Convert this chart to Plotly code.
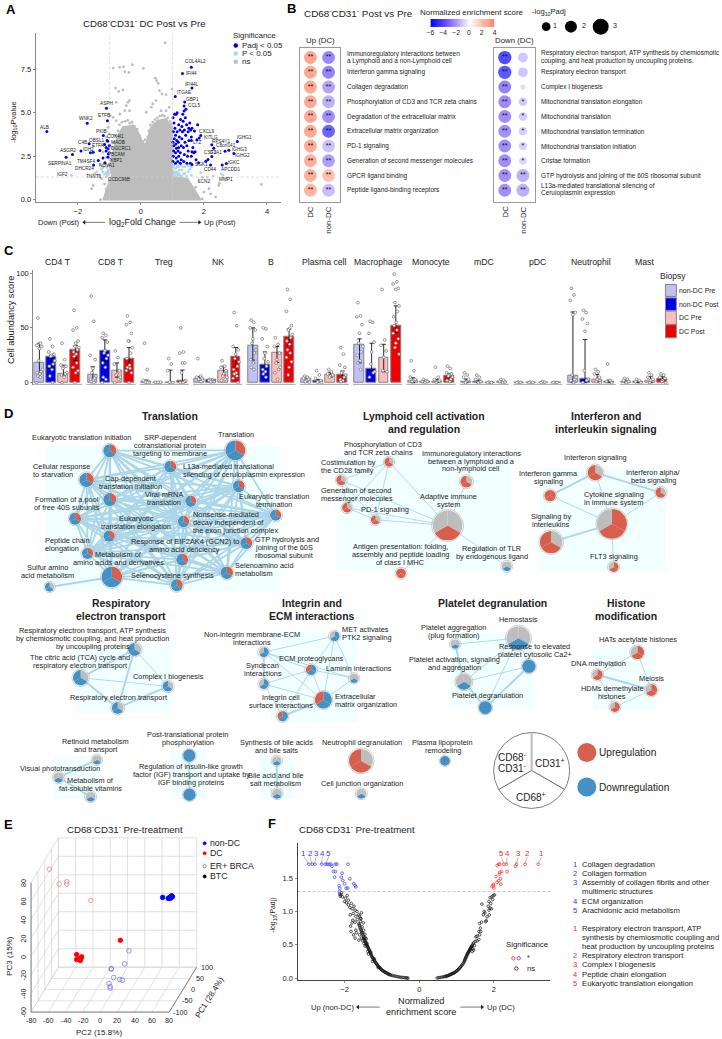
import plotly.graph_objects as go

W, H = 722, 1039
FONT = "Liberation Sans, Arial, sans-serif"
GREY_AX = "#8a8a8a"

# ---------- Panel A data (log2FC, -log10P) ----------
cloud_x = [-1.19,-1.04,-.91,-.985,-.88,-.744,-.566,-.25,-.09,.063,.168,.325,.535,.797,.985,1.0,1.04,1.48,1.74,1.9]
cloud_y = [-.04,.82,1.39,1.87,2.73,3.59,4.16,4.25,3.87,3.2,3.2,4.16,4.54,4.63,4.06,1.77,1.3,1.2,.44,-.05]
ns_x = [.77,-.88,-.67,-.55,-.27,.08,-.51,-.38,-.80,-.70,-.57,.46,.5,.55,.59,.8,.99,.67,-.78,-.41,-.36,-.46,-.51,-.36,-.67,-.88,-.97,-.78,.17,.38,.48,.9,.64,.33,.8,
        -1.56,-1.51,-1.28,-1.30,-1.25,-1.2,-1.15,-1.09,-1.2,-1.15,-1.04,-.99,-1.09,2.0,2.16,2.21,2.37,2.47,2.49,3.82,1.53,1.74,1.84,1.95,1.21,1.53,1.95,-1.46,-1.09,
        -1.1,-1.15,-1.0,-1.05,-1.02,-.98,-1.0,-.92,-.85,-.82,-.72,-.68,-.6,-.5,-.42,-.35,-.28,-.2,-.12,-.05,.0,.08,.14,.22,.25,.3,.38,.45,.52,.6,.68,.75,.85,.92,.96,1.1,1.25,1.4,1.55,1.65,1.8,.98,-.75]
ns_y = [9.0,7.56,7.6,7.63,7.75,7.54,7.35,7.31,6.41,6.22,6.3,6.98,6.83,6.68,6.26,6.03,6.35,6.07,5.59,5.59,5.69,5.4,5.11,5.11,4.92,4.73,4.83,4.54,5.02,5.5,5.69,5.31,5.11,5.31,5.11,
        .63,.82,0,1.39,1.2,1.87,2.06,2.44,2.72,3.2,4.16,3.78,3.59,.44,.63,.34,.15,.82,.95,.88,.72,.72,1.1,1.3,.34,.15,.05,1.5,1.5,
        .6,.9,1.1,1.6,2.0,2.3,2.6,3.0,3.3,3.7,3.95,4.3,4.45,4.5,4.55,4.4,4.45,4.2,4.05,3.7,3.45,3.35,3.45,3.6,3.95,4.3,4.45,4.6,4.7,4.8,4.85,4.8,4.7,4.5,4.35,1.1,1.0,.9,.5,.3,.2,4.2,3.6]
p05_x = [1.05,1.1,1.15,1.2,1.25,1.3,1.35,1.4,1.45,1.5,1.55,1.6,1.05,1.1,1.2,1.3,1.4,1.08,1.15,1.22,1.27,1.33,1.5,1.6,1.02,1.03,1.12,1.18,-1.05,-1.1,-1.03,-1.15,-1.08,-1.2,-1.1,-1.02,-1.25,-1.3,-1.4,-2.2,1.9,2.1,2.3,2.6,2.55,-1.35]
p05_y = [2.0,1.8,1.6,1.9,1.4,1.7,1.5,1.9,1.35,1.6,1.75,1.4,1.4,1.35,1.5,1.35,1.5,1.6,1.9,1.7,2.0,1.9,1.95,1.9,1.7,1.9,1.5,1.4,1.4,1.55,1.7,1.45,1.85,1.6,1.3,1.5,1.75,2.0,1.6,1.4,1.55,1.3,1.35,1.4,1.5,1.4]
padj_x = [1.6,1.32,1.62,1.09,1.39,1.37,-1.09,-1.06,-1.7,-2.98,-1.19,-1.64,-1.15,-1.1,-1.07,-1.0,-1.03,-1.03,-1.04,-1.51,-2.17,-2.37,-1.35,-1.14,-1.3,
          1.9,1.85,1.6,2.25,2.31,3.06,2.79,2.67,2.95,2.25,2.13,2.06,2.71,2.58,1.83,2.21,1.62,
          1.02,1.03,1.04,1.05,1.02,1.06,1.03,1.08,1.05,1.02,1.07,1.1,1.12,1.1,1.13,1.11,1.14,1.1,1.15,1.12,1.15,1.17,1.2,1.18,1.2,1.19,1.22,1.24,1.2,1.26,1.25,1.28,1.25,1.28,1.3,1.32,1.3,1.34,1.33,1.37,1.36,1.38,1.35,1.4,1.42,1.38,1.45,1.41,1.43,1.46,1.48,1.5,1.46,1.52,1.5,1.52,1.55,1.57,1.6,1.62,1.65,1.6,1.58,1.62,1.68,1.7,1.75,1.72,1.78,1.8,
          -1.9,-1.6,-1.2,-1.05,-1.1,-1.5,-1.0]
padj_y = [7.6,7.25,6.41,5.92,5.61,5.38,5.25,4.54,4.39,3.91,3.68,3.21,3.17,3.0,3.4,3.11,2.92,2.63,2.44,2.73,2.6,2.44,2.25,2.12,2.82,
          3.68,3.55,3.4,3.15,2.96,3.34,2.84,2.79,2.65,2.48,2.31,2.21,2.08,2.0,2.12,2.0,2.02,
          2.2,2.5,2.8,3.1,3.3,3.5,3.9,4.1,4.4,4.7,4.9,2.1,2.4,2.7,2.95,3.2,3.4,3.7,3.9,4.9,5.0,2.2,2.5,2.8,3.0,3.3,3.6,4.0,4.3,4.6,2.1,2.3,2.7,3.1,3.5,3.9,4.2,4.5,4.9,5.1,2.2,2.6,3.0,3.3,3.7,4.0,4.3,4.7,5.2,2.1,2.5,2.8,3.1,3.4,3.9,4.1,4.4,2.1,2.5,2.75,3.0,3.6,4.0,4.1,2.7,3.95,2.3,2.75,3.45,4.3,
          2.8,2.7,2.4,3.35,2.8,2.0,2.7]
gene_labels = [("COL4AL2",580,183),("IFI44",566,218),("IFI44L",570,250),("ITGAE",544,276),("GBP1",571,297),("CCL5",574,314),("ASPH",311,308),("ETFB",302,344),("WNK2",247,354),("ALB",122,382),("CXCL9",613,392),("KITLG",625,412),("LYZ",585,425),("RPS4Y1",657,424),("C8orf141",673,435),("IGHG1",729,410),("IGHG3",713,447),("IGHG2",723,465),("CST1",622,455),("GJA1",640,456),("SGK1",597,492),("CD44",624,507),("IGKC",697,487),("APCDD1",685,506),("LCN2",605,543),("MMP1",671,537),("PKIB",294,393),("COX4I1",336,409),("MAOB",345,426),("OBSL1",280,420),("ETFA",285,436),("DGCRC1",355,444),("C4B",236,427),("IDH2",257,448),("BCAM",346,463),("ASGR2",195,450),("XBP1",340,480),("SERPINA1",170,488),("TM4SF4",249,483),("NOVA1",312,496),("DHCR24",243,505),("IGF2",177,521),("TNNT1",273,527),("CCDC96B",347,537)]

# ---------- Panel B data ----------
up_terms = ["Immunoregulatory interactions between<br>a Lymphoid and a non-Lymphoid cell","Interferon gamma signaling","Collagen degradation","Phosphorylation of CD3 and TCR zeta chains","Degradation of the extracellular matrix","Extracellular matrix organization","PD-1 signaling","Generation of second messenger molecules","GPCR ligand binding","Peptide ligand-binding receptors"]
down_terms = ["Respiratory electron transport, ATP synthesis by chemiosmotic<br>coupling, and heat production by uncoupling proteins.","Respiratory electron transport","Complex I biogenesis","Mitochondrial translation elongation","Mitochondrial translation","Mitochondrial translation termination","Mitochondrial translation initiation","Cristae formation","GTP hydrolysis and joining of the 60S ribosomal subunit","L13a-mediated translational silencing of<br>Ceruloplasmin expression"]
up_dc_nes = [3.9,3.85,3.85,3.8,3.8,3.75,3.7,3.6,3.5,3.3]
up_non_nes = [-3.5,-3.7,-2.6,-2.2,-3.3,-5.0,-1.7,-2.7,2.8,-1.8]
down_dc_nes = [-5.9,-5.5,-3.7,-3.4,-3.3,-3.2,-3.3,-3.3,-3.2,-3.2]
down_non_nes = [-1.6,-1.6,-1.0,-1.5,-1.5,-1.4,-1.4,-1.2,-2.3,-2.3]
up_dc_p = [2.2]*10
up_non_p = [2.2,2.2,2.2,2.2,2.2,2.2,2.2,2.2,2.2,2.2]
down_dc_p = [2.3,2.3,2.2,2.2,2.2,2.2,2.2,2.2,2.2,2.2]
down_non_p = [1.4,1.4,.2,1.1,1.1,1.1,1.0,.9,2.2,2.2]
up_dc_star = ["**"]*10
up_non_star = ["**"]*10
down_dc_star = ["**"]*10
down_non_star = ["","","","*","*","*","*","*","**","**"]
nes_scale = [[0,"#0000ff"],[.3,"#8468ff"],[.6,"#ffffff"],[1,"#ff7f5c"]]
cbar_vals = [-6,-5,-4,-3,-2,-1,0,1,2,3,4]

# ---------- Panel C data ----------
cell_types = ["CD4 T","CD8 T","Treg","NK","B","Plasma cell","Macrophage","Monocyte","mDC","pDC","Neutrophil","Mast"]
biopsy = ["non-DC Pre","non-DC Post","DC Pre","DC Post"]
biopsy_col = ["#c0c1f6","#0000e8","#fbbdbd","#ee0000"]
bar_vals = [[18,7,.5,3.3,34,3.6,34.5,2,.5,.2,6,1.2],[24,29,.3,2.4,16,2,13,1.2,.5,.2,4,1],[8.5,10.6,.3,10.6,27,7,22.4,1.2,.3,.3,3,2],[29.7,22,2,23.6,41.5,7,52.4,6,.5,.2,1,3.6]]
bar_hi = [[36,14.5,2.4,5.5,50,5.5,40,4.5,3.3,.4,64.5,2.4],[25,39,.5,3,28,3,36,2,2.4,.4,39.4,1.5],[16,18,11.5,15,33,9.4,35,3,1,.5,7.6,5.5],[34,32,11.5,32,49,10.6,70,8.5,1.5,.4,2.4,5.5]]
bar_lo = [[8.5,1,0,2,20.6,1.5,18,0,0,0,0,0],[13,19,0,1,9,.6,10,.3,0,0,0,0],[7,5,0,7,18.5,5,10,.3,0,0,1,0],[20,13,0,15,34,2.4,45.8,3.3,0,0,0,2.4]]
pts_nd_pre = [[59,36,34,33,31,20,12,10,9,8,6,5,0],[79,56,25,21,13,9,6,4,3,2,1,0],[36,12,2,1,1,.5,0,0],[22,6,5,4,3,3,2,1],[57,55,50,48,40,36,30,27,21,18,14,12],[6,5,4,3,2,1,.5],[73,61,60,53,45,36,33,28,25,20,18,12],[20,11,5,3,2,1],[9,7,5,3,1,0],[.5,.2,0],[86,80,75,64,62,7,5,3,2,0],[4,3,2,1,0]]
pts_nd_post = [[40,33,28,26,25,24,20,17,15,12,6,0],[45,43,41,37,29,27,25,22,18,14,5,3,0],[0,0,.3,.5,.2],[3,2,2,1,1,1],[50,49,40,33,27,22,19,15,12,10,8,5],[11,7,4,2,1,.5,0],[56,55,45,37,28,17,10,9,5],[3,2,1,1,0],[7,5,3,1,0],[.5,.2,0],[66,64,58,54,47,11,3,2,0],[3,2,1,0]]
pts_dc_pre = [[36,21,16,15,14,13,9,8,7,5,0],[29,23,17,11,8,7,5,3,0],[22,17,11,0,0,.5],[20,15,14,11,8,6,5,3,2],[41,35,33,27,21,18,14,12,9,3],[12,10,8,7,6,5],[85,39,34,29,23,11,10],[14,5,3,2,1,0],[.5,.2,0],[1,.5,0],[12,10,8,5,3,1,0],[9,7,5,3,2,0]]
pts_dc_post = [[66,50,48,38,36,33,32,30,28,26,24,18,14,11,9,0],[61,55,53,45,38,38,32,27,22,16,14,13,11,9,0],[50,28,27,18,18,9,2,1,0,0],[64,52,33,30,26,22,19,15,12,9,8,6,4,0],[85,76,65,52,49,48,44,41,38,35,30,27,23,19,14,7],[32,26,16,14,10,9,7,5,3,2,1],[99,92,90,86,85,73,70,65,60,55,52,48,45,40,36,32,26],[15,13,9,8,7,6,5,3,2,1],[3,2,1,.5,0],[.3,.1,0],[17,2,1,0],[8,7,5,4,2,1,0]]
cell_pts = [pts_nd_pre,pts_nd_post,pts_dc_pre,pts_dc_post]
jitter_pattern = [-.03,.02,-.05,.045,.0,-.015,.06,.03,-.04,.01]

# ---------- Panel D data ----------
node_x = [106.7,167.7,233.3,236.7,83.3,106.7,188.3,71.7,181,274,106,244.3,84.3,179.7,108.7,224.7,174.3,46,
          388.3,340,346,374.7,466.3,447.3,400.3,507,
          596.3,550.7,662.3,613,551.7,614.7,
          131.7,77.3,165.3,114.7,
          333.3,262,309.7,353,262,322,281,
          455,518.7,529.3,463.7,485.3,
          638.7,598.3,652.7,616,
          93.7,55,87.3,186.7,187,275,275.3,360,360.3,444.7]
node_y = [451,467,450.7,486.7,480.3,500,501.7,519.3,522,515.7,536.7,543.7,554,560.3,577.7,573.3,586,587.7,
          462.3,480.7,508.3,520.3,482,526,574,567,
          473,496,493,524.3,542.7,567.7,
          650.3,678.7,687.3,709,
          637,653,670.7,679.3,685,701,717.3,
          645,639,667.3,682.7,708.7,
          653.3,675.7,691,708,
          761,778.7,798,756.7,796,762,795,762,795,762]
node_r = [7.5,7,11,7,8.2,7.5,6.7,7,6.7,6.7,6.7,7,6.7,7,11.3,7.3,7,5.7,
          5.7,6,6,5.7,7,16,6,6,
          8.7,6.7,6.3,16,12.3,6,
          7.5,8.7,6.3,7,
          6,6,6.3,5.7,6,9.5,6.3,
          5.7,13,7.5,9,7.3,
          7.7,6.3,7,6,
          5.7,6.3,6,7,7,5.7,6,13,6,5.7]
# sectors: right / bottom / left  (R up, B down, G no data)
node_s = ["RBB"]*17+["GBB"]+["GRR"]*5+["GRG"]+["RRR"]+["GBG"]+["GRR","RRR","GRR","RRG","GRR","RRG"]+["GBB"]*4+["BBG","BBG","BBR","GBG","BBG","BBR","BBR"]+["GBG","GBG","BBB","GBG","BBB"]+["RRG"]*4+["GBG","GBG","GBG","BBB","BBB","GBG","GBG","GRR","GBG","BBB"]
edges_thin = [(18,19),(18,20),(18,21),(18,23),(19,20),(19,21),(19,23),(20,21),(20,23),(21,23),(22,23),(24,23),(25,23),
              (26,29),(27,29),(28,29),(29,31),(33,34),(34,32),
              (36,37),(36,38),(36,41),(36,39),(37,38),(37,39),(37,41),(38,40),(38,39),(38,41),(38,42),(39,41),(40,41),(40,42),
              (43,44),(44,45),(44,46),(44,47),(45,46),(48,49),(48,50),(50,51),(49,51)]
edges_thick = [(17,14),(26,27),(26,28),(29,30),(32,33),(32,35),(33,35),(34,35),(37,40),(41,42),(43,46),(46,47),(45,47),(49,50),(52,53),(53,54),(55,56),(57,58)]
translation_nodes = list(range(17))
rect_x0 = [41.7,336,540.3,72.3,269,451,594,50,168,257]
rect_x1 = [278.3,511.7,666.7,170,357,534,657.3,97,205,293]
rect_y0 = [446.7,455,468.3,646,633,634,649,757,752,757.7]
rect_y1 = [592.3,571.7,572.3,713.7,723,709.3,710.7,800,800,800]
COL_S = {"R":"#d6604d","B":"#4292c6","G":"#bdbdbd"}

# ---------- Panel E data (PC2, PC3) ----------
ref_dc_x = [-74.8,-63.3,-54.5,-54.5,-26.6]
ref_dc_z = [70.4,54.2,56.7,54.2,36.6]
btc_dc_x = [7.5,-43.1,-37.3,-43.1,-38.9,-40,-38.1]
btc_dc_z = [-6.6,-22,-24.6,-27.4,-28.5,-26.7,-26]
ref_nd_x = [17.4,12.4,-2.9,-2.9,-.2,6.7,9.8,-5.6,-4.3,-4.3]
ref_nd_z = [-18.1,-32.1,-37.2,-37.9,-46.9,-49,-49.7,-53.3,-56.6,-58.4]
btc_nd_x = [56.5,63,65.3,66.8,67.9,66,64.1]
btc_nd_z = [39.8,38.7,38.7,41.6,40.5,39.8,39.5]
pc2_ticks = [-80,-60,-40,-20,0,20,40,60,80]
pc1_ticks = [-100,-50,0,50,100]
pc3_ticks = [-60,-40,-20,0,20,40,60,80]

# ---------- Panel F data (NES, -log10 Padj) ----------
f_blue_x = [-2.96,-2.87,-2.80,-2.62,-2.52,-2.47,-2.42,-2.37,-2.25,-2.21,-1.91,-2.34,-2.30,-2.25,-2.27,-2.07,-2.09,-2.05,-1.86,-2.0,-2.15,-2.13,-2.14,-1.96,-1.92,-1.755,-1.72,-1.70]
f_blue_y = [1.71]*11+[1.68,1.6,1.6,1.515,1.575,1.515,1.465,1.49,1.415,1.39,1.35,1.30,1.35,1.35,1.42,1.39,1.37]
f_red_x = [3.19,2.84,2.61,2.58,2.34,2.27,2.13,2.09,2.16,2.36,2.21,2.16,2.15,2.06,2.18,2.13,2.19,2.09,1.99,1.95,2.0,1.99]
f_red_y = [1.71,1.71,1.71,1.68,1.71,1.71,1.71,1.69,1.71,1.6,1.6,1.59,1.56,1.525,1.49,1.46,1.41,1.44,1.41,1.375,1.35,1.39]
f_ns_x = [-.30,-.33,-.36,-.40,-.44,-.48,-.52,-.56,-.60,-.64,-.68,-.72,-.76,-.80,-.84,-.88,-.92,-.96,-1.0,-1.03,-1.06,-1.09,-1.12,-1.15,-1.18,-1.21,-1.24,-1.27,-1.29,-1.31,-1.33,-1.35,-1.37,-1.39,-1.41,-1.43,-1.45,-1.42,-1.47,-1.5,-1.46,-1.52,-1.55,-1.49,-1.58,-1.53,-1.6,-1.62,-1.5,-1.57,-1.66,-1.56,-1.7,-1.62,-1.77,-1.67,-1.72,-1.8,-1.86,-1.75,-1.9,-1.82,-1.95,-2.0,-1.9,-1.98,-1.93,-2.1,-2.13,-2.08,-2.12,-2.06,-1.72,-1.6,-1.55,-1.58,-1.78,-1.85,-1.8,-1.84,-1.83,-1.76,-1.72,-1.6,-1.55,-1.52,-1.62,-1.68,-1.7,-1.45,-1.48,-1.38,-1.36,-1.25,
        -1.02,-1.05,-1.08,-1.11,-1.14,-1.17,-1.2,-1.23,-1.26,-1.28,-1.3,-1.32,-1.34,-1.36,-1.38,-1.4,-1.42,-1.44,-1.46,-1.48,-1.51,-1.54,-1.56,-1.59,-1.61,-.9,-.94,-.98,-.86,-.82,-.78,-1.1,-1.2,-1.3,-1.4,-1.5,-1.45,
        .48,.52,.56,.6,.64,.68,.72,.76,.8,.84,.88,.92,.96,1.0,1.04,1.08,1.12,1.16,1.2,1.22,1.24,1.26,1.28,1.3,1.32,1.34,1.36,1.38,1.4,1.42,1.44,1.46,1.5,1.55,1.48,1.44,1.52,1.6,1.55,1.62,1.65,1.6,1.62,1.64,1.67,1.78,1.8,1.82,1.72,1.74,1.76,1.88,1.87,1.9,1.94,1.68,1.85,1.87,1.9,1.95,1.99,2.02,1.97,1.92,1.42,1.46,
        1.02,1.06,1.1,1.14,1.18,1.21,1.23,1.25,1.27,1.29,1.31,1.33,1.35,1.37,1.39,1.41,.9,.94,.98,.86,.82,.78,.74,.7]
f_ns_y = [0,.003,.005,.007,.01,.012,.015,.02,.024,.03,.033,.04,.045,.055,.065,.08,.09,.105,.12,.14,.155,.175,.195,.22,.245,.27,.3,.325,.355,.38,.405,.43,.455,.48,.5,.53,.56,.59,.6,.63,.66,.68,.7,.72,.74,.77,.79,.82,.83,.85,.88,.89,.93,.95,.97,1.0,1.02,1.04,1.06,1.08,1.1,1.12,1.13,1.15,1.17,1.2,1.24,1.25,1.26,1.28,1.23,1.22,.84,.93,.98,.9,.87,.95,.83,.78,.7,.65,.6,.65,.6,.56,.57,.68,.72,.48,.52,.4,.36,.25,
        .13,.15,.165,.185,.21,.23,.26,.285,.31,.34,.365,.39,.42,.445,.47,.49,.515,.545,.57,.6,.65,.68,.72,.76,.8,.085,.098,.112,.072,.06,.05,.16,.29,.39,.52,.59,.61,
        .003,.006,.01,.014,.018,.022,.03,.035,.045,.055,.065,.075,.09,.105,.125,.15,.175,.205,.24,.27,.295,.32,.345,.37,.39,.41,.43,.45,.47,.49,.51,.53,.55,.56,.49,.44,.62,.58,.63,.65,.7,.7,.82,.75,.84,.85,.86,.92,.95,1.0,.98,.95,1.02,1.05,1.04,1.11,1.08,1.15,1.21,1.22,1.24,1.25,1.18,1.12,.4,.42,
        .115,.135,.16,.19,.22,.255,.28,.31,.335,.36,.38,.4,.42,.44,.46,.48,.07,.08,.095,.06,.05,.04,.032,.026]
f_blue_terms = ["Collagen degradation","Collagen formation","Assembly of collagen fibrils and other<br>multimeric structures","ECM organization","Arachidonic acid metabolism"]
f_red_terms = ["Respiratory electron transport, ATP<br>synthesis by chemiosmotic coupling and<br>heat production by uncoupling proteins","Respiratory electron transport","Complex I biogenesis","Peptide chain elongation","Eukaryotic translation elongation"]

# ---------- helpers ----------
SCALE = 1.15
annots, shapes, arrows = [], [], []
def T(x, y, t, s=6.4, c="#222", a="center", ang=0, b=False, step=8, scale=SCALE):
    lines = t.split("<br>")
    y0 = y-(len(lines)-1)*step/2
    for i, ln in enumerate(lines):
        annots.append(dict(x=x/W, y=1-(y0+i*step)/H, xref="paper", yref="paper", text=f"<b>{ln}</b>" if b else ln,
            font=dict(size=s*scale, color=c, family=FONT), showarrow=False, xanchor=a, yanchor="middle", align=a,
            textangle=ang, borderpad=0, borderwidth=0))
def arrow(x0, y0, x1, y1):
    arrows.append((x0, y0, x1, y1))
def domx(a, b): return [a/W, b/W]
def domy(top, bot): return [1-bot/H, 1-top/H]
def C(ox, oy, cx, cy, t, a="center"):
    T(ox+cx/3, oy+cy/3, t, a=a)

fig = go.Figure()
layout = dict(width=W, height=H, margin=dict(l=0, r=0, t=0, b=0), paper_bgcolor="white", plot_bgcolor="rgba(0,0,0,0)",
    showlegend=False, font=dict(family=FONT, color="#222"), autosize=False)
layout["xaxis"] = dict(domain=[0,1], range=[0,W], visible=False)
layout["yaxis"] = dict(domain=[0,1], range=[H,0], visible=False)
def ax_style(**k):
    d = dict(showgrid=False, zeroline=False, showline=True, linecolor=GREY_AX, linewidth=1, ticks="outside", ticklen=2, tickwidth=.8,
             tickcolor=GREY_AX, tickfont=dict(size=7.5, color="#222", family=FONT))
    d.update(k); return d

# ---------- A ----------
layout["xaxis2"] = ax_style(domain=domx(32,279), range=[(32-138)/31.8,(279-138)/31.8], anchor="y2", tickvals=[-2,0,2,4])
layout["yaxis2"] = ax_style(domain=domy(32.3,201.7), range=[(199.3-201.7)/17.47,(199.3-32.3)/17.47], anchor="x2", tickvals=[0,2.5,5,7.5], ticktext=["0.0","2.5","5.0","7.5"])
fig.add_trace(go.Scatter(x=cloud_x, y=cloud_y, fill="toself", fillcolor="#bdbdbd", mode="lines", line=dict(color="#bdbdbd", width=2), xaxis="x2", yaxis="y2", hoverinfo="skip"))
for xs, ys, col, sz in [(ns_x,ns_y,"#bdbdbd",2.8),(p05_x,p05_y,"#add8e6",2.8),(padj_x,padj_y,"#0000ee",3)]:
    fig.add_trace(go.Scatter(x=xs, y=ys, mode="markers", marker=dict(color=col, size=sz, line=dict(width=0)), xaxis="x2", yaxis="y2"))
for vx in (-1,1):
    fig.add_trace(go.Scatter(x=[vx,vx], y=[0,9.56], mode="lines", line=dict(color="#cfcfcf", width=.7, dash="3px,2px"), xaxis="x2", yaxis="y2"))
fig.add_trace(go.Scatter(x=[-3.33,4.44], y=[1.3,1.3], mode="lines", line=dict(color="#cfcfcf", width=.7, dash="3px,2px"), xaxis="x2", yaxis="y2"))
for g, cx, cy in gene_labels:
    T(cx/3, cy/3, g, s=4.1, c="#222")
T(142, 22.5, "CD68<sup>-</sup>CD31<sup>-</sup> DC Post vs Pre", s=8.4)
T(230.5, 35, "Significance", s=6.9, a="left")
for yy, col, tt in [(44.7,"#0000ee","Padj &lt; 0.05"),(52.7,"#add8e6","P &lt; 0.05"),(61,"#bdbdbd","ns")]:
    fig.add_trace(go.Scatter(x=[233.7], y=[yy], mode="markers", marker=dict(color=col, size=4.5)))
    T(239.5, yy, tt, s=6.9, a="left")
T(9.5, 121, "-log<sub>10</sub>Pvalue", s=6.6, ang=-90)
T(55.7, 222, "Down (Post)", s=6.5)
T(140, 222, "log<sub>2</sub>Fold Change", s=7.8)
T(218, 222, "Up (Post)", s=6.5)
arrow(102, 222, 81, 222); arrow(177, 222, 197, 222)

# ---------- B ----------
rows = list(range(10))
for xa, ya, x0, x1, ncols in [("x3","y3",298,339,(up_dc_nes,up_non_nes,up_dc_p,up_non_p,up_dc_star,up_non_star)),("x4","y4",494,535,(down_dc_nes,down_non_nes,down_dc_p,down_non_p,down_dc_star,down_non_star))]:
    n = xa[1:]
    layout["xaxis"+n] = dict(domain=domx(x0,x1), range=[-0.6,1.64], anchor=ya, showgrid=False, zeroline=False, showline=True, mirror=True, linecolor="#9a9a9a", linewidth=1.2, showticklabels=False, ticks="")
    layout["yaxis"+n] = dict(domain=domy(47,201.7), range=[9.8,-.655], anchor=xa, showgrid=False, zeroline=False, showline=True, mirror=True, linecolor="#9a9a9a", linewidth=1.2, showticklabels=False, ticks="")
    for k in (0,1):
        fig.add_trace(go.Scatter(x=[k]*10, y=rows, mode="markers",
            marker=dict(color=ncols[k], cmin=-6, cmax=4, colorscale=nes_scale, size=[4.3+3.9*p for p in ncols[2+k]], line=dict(width=0)),
            xaxis=xa, yaxis=ya))
        keep = [r for r in rows if ncols[4+k][r]]
        fig.add_trace(go.Scatter(x=[k]*len(keep), y=keep, mode="text", text=[ncols[4+k][r] for r in keep], textposition="middle center",
            textfont=dict(size=7, color="#111", family=FONT), xaxis=xa, yaxis=ya))
row_px = [56.7+14.8*i for i in rows]
for i, t in enumerate(up_terms):
    T(346.3, row_px[i], t, s=5.6, a="left", step=7.4)
for i, t in enumerate(down_terms):
    T(542, row_px[i]+(-.5 if i==0 else (-1 if i==9 else 0)), t, s=5.6, a="left", step=7.4)
T(357, 12.5, "CD68<sup>-</sup>CD31<sup>-</sup> Post vs Pre", s=8.6)
T(472, 11.3, "Normalized enrichment score", s=6.9)
T(550, 11.3, "-log<sub>10</sub>Padj", s=6.6)
T(319, 40, "Up (DC)", s=6.8)
T(515, 40, "Down (DC)", s=6.8)
for xc, extra in [(309,0),(327,1),(505.3,0),(523.7,1)]:
    T(xc, 220 if extra else 211, "non-DC" if extra else "DC", s=6.8, ang=-90)
layout["xaxis7"] = dict(domain=domx(430,494.7), range=[-6,4], anchor="y7", showgrid=False, zeroline=False, showline=False, ticks="", tickvals=[-6,-4,-2,0,2,4], tickfont=dict(size=6.8, family=FONT, color="#222"))
layout["yaxis7"] = dict(domain=domy(18,26), range=[0,1], anchor="x7", visible=False)
fig.add_trace(go.Heatmap(x=cbar_vals, y=[0,1], z=[cbar_vals,cbar_vals], colorscale=nes_scale, zmin=-6, zmax=4, zsmooth="best", showscale=False, xaxis="x7", yaxis="y7", hoverinfo="skip"))
for xc, d, lab, lx in [(546.7,8.7,"1",556),(571.7,12,"2",585),(601.7,16,"3",616)]:
    fig.add_trace(go.Scatter(x=[xc], y=[25.7], mode="markers", marker=dict(color="#000", size=d)))
    T(lx, 25.5, lab, s=6.2)

# ---------- C ----------
layout["xaxis5"] = dict(domain=domx(29.5,672), range=[(29.5-54)/53.8,(672-54)/53.8], anchor="y5", visible=False)
layout["yaxis5"] = ax_style(domain=domy(269.5,385), range=[-2,103], anchor="x5", tickvals=[0,50,100], showline=True)
offs = [-1.5*.2267,-.5*.2267,.5*.2267,1.5*.2267]
for s in range(4):
    xs = [g+offs[s] for g in range(12)]
    fig.add_trace(go.Bar(x=xs, y=bar_vals[s], width=.186, marker=dict(color=biopsy_col[s], line=dict(color="#858585", width=1)),
        error_y=dict(type="data", symmetric=False, array=[h-v for h,v in zip(bar_hi[s],bar_vals[s])],
                     arrayminus=[v-l for v,l in zip(bar_vals[s],bar_lo[s])], color="#111", thickness=.9, width=2.2),
        xaxis="x5", yaxis="y5"))
    px_, py_ = [], []
    for g, vals in enumerate(cell_pts[s]):
        for j, v in enumerate(vals):
            px_.append(xs[g]+jitter_pattern[j % len(jitter_pattern)]); py_.append(v)
    fig.add_trace(go.Scatter(x=px_, y=py_, mode="markers", marker=dict(color="rgba(255,255,255,.95)", size=2.8, line=dict(color="#707070", width=.7)), xaxis="x5", yaxis="y5"))
for g, name in enumerate(cell_types):
    shapes.append(dict(type="line", xref="x5", yref="y5", x0=g-.46, x1=g+.46, y0=-1.8, y1=-1.8, line=dict(color="#b3b3b3", width=2)))
    annots.append(dict(x=g, y=1-261.7/H, xref="x5", yref="paper", text=name, showarrow=False, font=dict(size=8.7, color="#222", family=FONT), yanchor="middle"))
T(7, 320, "Cell abundancy score", s=8, ang=-90)
T(675, 276, "Biopsy", s=7.4)
for i, (y0, y1) in enumerate([(284.3,296.3),(297.7,310.3),(311,324.3),(324.7,337.7)]):
    shapes.append(dict(type="rect", xref="paper", yref="paper", x0=667/W, x1=678/W, y0=1-y1/H, y1=1-y0/H, fillcolor=biopsy_col[i], line=dict(color="#858585", width=1)))
    T(681, (y0+y1)/2, biopsy[i], s=6.0, a="left")

# ---------- D ----------
for i in range(len(rect_x0)):
    shapes.append(dict(type="rect", xref="x", yref="y", x0=rect_x0[i], x1=rect_x1[i], y0=rect_y0[i], y1=rect_y1[i], fillcolor="#f1ffff", line=dict(width=0), layer="below"))
def edge_xy(pairs):
    xs, ys = [], []
    for a, b in pairs:
        xs += [node_x[a], node_x[b], None]; ys += [node_y[a], node_y[b], None]
    return xs, ys
mesh = [(a,b) for i,a in enumerate(translation_nodes) for b in translation_nodes[i+1:]]
for pairs, w in [(mesh,1.8),(edges_thin,.9),(edges_thick,1.9)]:
    xs, ys = edge_xy(pairs)
    fig.add_trace(go.Scatter(x=xs, y=ys, mode="lines", line=dict(color="#acd6e8", width=w), hoverinfo="skip"))
fig.add_trace(go.Scatter(x=node_x, y=node_y, mode="markers", marker=dict(size=[2*r for r in node_r], color="white", line=dict(color="#a8a8a8", width=.8)), hoverinfo="skip"))
for cx, cy, r, s in zip(node_x, node_y, node_r, node_s):
    r2 = r-1
    cols = [COL_S[c] for c in s]
    fig.add_trace(go.Pie(values=[1,1,1], sort=False, direction="clockwise", rotation=0, textinfo="none", hoverinfo="skip", showlegend=False,
        marker=dict(colors=cols, line=dict(color=["#3a7fae" if s=="BBB" else "rgba(0,0,0,0)"]*3, width=.4)),
        domain=dict(x=[(cx-r2)/W,(cx+r2)/W], y=[1-(cy+r2)/H,1-(cy-r2)/H])))

for t, x, y in [("Translation",167.7,416.7),("Lymphoid cell activation",424,416.7),("and regulation",424,429.7),("Interferon and",607.5,416.7),("interleukin signaling",607.5,429.5),
                ("Respiratory",117.5,604.7),("electron transport",117.5,617.7),("Integrin and",310.7,604.7),("ECM interactions",310.7,617.7),
                ("Platelet degranulation",492.3,604.7),("Histone",627.3,604.7),("modification",627.3,617.7)]:
    T(x, y, t, s=9.1, b=True)
for cx, cy, t, a in [(235,113,"Eukaryotic translation initiation","center"),(501,138,"SRP-dependent<br>cotranslational protein<br>targeting to membrane","center"),(701,105,"Translation","center"),
    (89,214,"Cellular response<br>to starvation","left"),(543,213,"L13a-mediated translational<br>silencing of ceruloplasmin expression","left"),(382,250,"Cap-dependent<br>translation initiation","center"),
    (483,298,"Viral mRNA<br>translation","center"),(192,311,"Formation of a pool<br>of free 40S subunits","center"),(818,303,"Eukaryotic translation<br>termination","center"),
    (572,368,"Nonsense-mediated<br>decay independent of<br>the exon junction complex","left"),(400,368,"Eukaryotic<br>translation elongation","center"),(123,436,"Peptide chain<br>elongation","left"),
    (547,438,"Response of EIF2AK4 (GCN2) to<br>amino acid deficiency","center"),(760,445,"GTP hydrolysis and<br>joining of the 60S<br>ribosomal subunit","left"),(347,478,"Metabolism of<br>amino acids and derivatives","center"),
    (133,516,"Sulfur amino<br>acid metabolism","center"),(700,510,"Selenoamino acid<br>metabolism","left"),(510,527,"Selenocysteine synthesis","center")]:
    C(0,400,cx,cy,t,a)
T(320, 466.5, "Costimulation by<br>the CD28 family", a="left")
T(320, 495.3, "Generation of second<br>messenger molecules", a="left")
for cx, cy, t, a in [(10,145,"Phosphorylation of CD3<br>and TCR zeta chains","left"),(133,330,"PD-1 signaling","center"),(393,184,"Immunoregulatory interactions<br>between a lymphoid and a<br>non-lymphoid cell","center"),
    (325,302,"Adaptive immune<br>system","center"),(178,464,"Antigen presentation: folding,<br>assembly and peptide loading<br>of class I MHC","center"),(455,459,"Regulation of TLR<br>by endogenous ligand","center"),
    (768,174,"Interferon signaling","center"),(628,235,"Interferon gamma<br>signaling","center"),(946,232,"Interferon alpha/<br>beta signaling","center"),(824,298,"Cytokine signaling<br>in immune system","center"),
    (634,364,"Signaling by<br>interleukins","center"),(824,472,"FLT3 signaling","center")]:
    C(340,400,cx,cy,t,a)
for cx, cy, t, a in [(269,148,"Respiratory electron transport, ATP synthesis<br>by chemiosmotic coupling, and heat production<br>by uncoupling proteins","center"),(231,218,"The citric acid (TCA) cycle and<br>respiratory electron transport","center"),
    (498,262,"Complex I biogenesis","center"),(346,326,"Respiratory electron transport","center"),(750,149,"Non-integrin membrane-ECM<br>interactions","center"),(930,207,"ECM proteoglycans","center"),
    (782,242,"Syndecan<br>interactions","center"),(838,339,"Integrin cell<br>surface interactions","center"),(277,470,"Retinoid metabolism<br>and transport","center"),(168,539,"Visual phototransduction","center"),
    (262,588,"Metabolism of<br>fat-soluble vitamins","center"),(556,449,"Post-translational protein<br>phosphorylation","center"),(566,556,"Regulation of insulin-like growth<br>factor (IGF) transport and uptake by<br>IGF binding proteins","center"),
    (824,473,"Synthesis of bile acids<br>and bile salts","center"),(822,573,"Bile acid and bile<br>salt metabolism","center")]:
    C(0,590,cx,cy,t,a)
T(340.7, 634.7, "MET activates<br>PTK2 signaling", a="left")
T(325, 669.3, "Laminin interactions", a="left")
T(334, 701.3, "Extracellular<br>matrix organization", a="left")
T(360.5, 744, "Neutrophil degranulation")
T(361, 784.7, "Cell junction organization")
for cx, cy, t in [(340,126,"Platelet aggregation<br>(plug formation)"),(537,92,"Hemostasis"),(585,185,"Response to elevated<br>platelet cytosolic Ca2+"),(342,223,"Platelet activation, signaling<br>and aggregation"),
    (443,321,"Platelet degranulation"),(898,150,"HATs acetylate histones"),(778,222,"DNA methylation"),(938,268,"Meiosis"),(820,310,"HDMs demethylate<br>histones"),(308,473,"Plasma lipoprotein<br>remodeling")]:
    C(340,590,cx,cy,t)
# key pie
fig.add_trace(go.Pie(values=[1,1,1], sort=False, direction="clockwise", rotation=0, textinfo="none", hoverinfo="skip", showlegend=False,
    marker=dict(colors=["white"]*3, line=dict(color="#6e6e6e", width=.9)), domain=dict(x=[(532-38.3)/W,(532+38.3)/W], y=[1-(771.7+38.3)/H,1-(771.7-38.3)/H])))
shapes.append(dict(type="line", xref="paper", yref="paper", x0=532/W, x1=532/W, y0=1-771.7/H, y1=1-733.4/H, line=dict(color="#bdbdbd", width=2)))
T(512.5, 764, "CD68<sup>-</sup><br>CD31<sup>-</sup>", s=8.7, step=11)
T(550.7, 764.5, "CD31<sup>+</sup>", s=8.7)
T(531.7, 798.5, "CD68<sup>+</sup>", s=8.7)
for yy, col, lab in [(753.7,"#d6604d","Upregulation"),(788.3,"#4292c6","Downregulation")]:
    fig.add_trace(go.Scatter(x=[587.7], y=[yy], mode="markers", marker=dict(color=col, size=19)))
    T(600, yy, lab, s=8.8, a="left")

# ---------- E ----------
def PX(x, y): return 27.3+(x+80)*.871+(y+100)*.138
def PY(y, z): return 1014-(z+60)*.927-(y+100)*.225
def line3(pts):
    return [PX(a,b) for a,b,c in pts]+[None], [PY(b,c) for a,b,c in pts]+[None]
gx, gy = [], []
for x in pc2_ticks:
    for seg in ([(x,100,-60),(x,100,80)],[(x,-100,-60),(x,100,-60)]):
        a, b = line3(seg); gx += a; gy += b
for z in pc3_ticks:
    for seg in ([(-80,100,z),(80,100,z)],[(-80,-100,z),(-80,100,z)]):
        a, b = line3(seg); gx += a; gy += b
for y in pc1_ticks:
    for seg in ([(-80,y,-60),(80,y,-60)],[(-80,y,-60),(-80,y,80)]):
        a, b = line3(seg); gx += a; gy += b
fig.add_trace(go.Scatter(x=gx, y=gy, mode="lines", line=dict(color="#d4d4d4", width=.7), hoverinfo="skip"))
ex, ey = [], []
for seg in ([(-80,-100,-60),(80,-100,-60)],[(80,-100,-60),(80,100,-60)],[(-80,-100,-60),(-80,-100,80)]):
    a, b = line3(seg); ex += a; ey += b
fig.add_trace(go.Scatter(x=ex, y=ey, mode="lines", line=dict(color="#777", width=.9), hoverinfo="skip"))
for xs, zs, col, filled in [(ref_dc_x,ref_dc_z,"#f08080",False),(btc_dc_x,btc_dc_z,"#ff0000",True),(ref_nd_x,ref_nd_z,"#7a7aff",False),(btc_nd_x,btc_nd_z,"#0000ff",True)]:
    fig.add_trace(go.Scatter(x=[PX(a,0) for a in xs], y=[PY(0,b) for b in zs], mode="markers",
        marker=dict(size=4.6, color=col if filled else "rgba(255,255,255,0)", line=dict(color=col, width=.8))))
for x in pc2_ticks:
    T(PX(x,-100), 1022, str(x), s=6.3)
for z in pc3_ticks:
    T(19.5, PY(-100,z), str(z), s=6.3, ang=-90)
for y in pc1_ticks:
    T(PX(80,y)+10.5, PY(y,-60), str(y), s=6.3)
T(96, 1034, "PC2 (15.8%)", s=7)
T(6, 957.7, "PC3 (15%)", s=7, ang=-90)
T(207, 999, "PC1 (28.4%)", s=7, ang=-58)
T(121.7, 830, "CD68<sup>-</sup>CD31<sup>-</sup> Pre-treatment", s=8.4)
for yy, col, fc, lab in [(844.7,"#0000ff","#0000ff","non-DC"),(854.7,"#ff0000","#ff0000","DC"),(867.7,"#555","white","ER+ BRCA"),(878,"#000","#000","BTC")]:
    fig.add_trace(go.Scatter(x=[202.3], y=[yy], mode="markers", marker=dict(size=3.2, color=fc, line=dict(color=col, width=.6))))
    T(207.7, yy, lab, s=7.6, a="left")

# ---------- F ----------
layout["xaxis6"] = ax_style(domain=domx(296,551), range=[(296-418.7)/37.6,(551-418.7)/37.6], anchor="y6", tickvals=[-2,0,2], linecolor="#444")
layout["yaxis6"] = ax_style(domain=domy(844.3,982.3), range=[-.035,2.03], anchor="x6", tickvals=[0,.5,1,1.5], ticktext=["0.0","0.5","1.0","1.5"], linecolor="#444")
fig.add_trace(go.Scatter(x=[-3.26,3.52], y=[1.3,1.3], mode="lines", line=dict(color="#b5b5b5", width=.7, dash="3px,2px"), xaxis="x6", yaxis="y6"))
for xs, ys, col, sz in [(f_ns_x,f_ns_y,"#111",2.6),(f_blue_x,f_blue_y,"#3a3aff",2.8),(f_red_x,f_red_y,"#ff2a2a",2.8)]:
    fig.add_trace(go.Scatter(x=xs, y=ys, mode="markers", marker=dict(size=sz, color="rgba(255,255,255,0)", line=dict(color=col, width=.7)), xaxis="x6", yaxis="y6"))
conn_b = [(68,144,82,168),(85,144,92,168),(104,144,100,168),(123,144,120,168),(143,144,132,168)]
conn_r = [(665,146,672,166),(682,146,680,166),(716,146,710,166),(743,146,736,166),(786,146,776,166)]
cxs, cys = [], []
for a,b,c,d in conn_b+conn_r:
    cxs += [280+a/3,280+c/3,None]; cys += [810+b/3,810+d/3,None]
fig.add_trace(go.Scatter(x=cxs, y=cys, mode="lines", line=dict(color="#777", width=.5), hoverinfo="skip"))
for lab, cx in zip("12345",[66,85,105,124,143]):
    T(280+cx/3, 810+134/3, lab, s=6.8, c="#3333ff")
for lab, cx in zip("54321",[666,683,716,743,786]):
    T(280+cx/3, 810+134/3, lab, s=6.8, c="#ff2222")
T(356, 830, "CD68<sup>-</sup>CD31<sup>-</sup> Pre-treatment", s=8.4)
T(271.7, 917, "-log<sub>10</sub>(Padj)", s=6, ang=-90)
T(420.5, 1008.5, "Normalized<br>enrichment score", s=8, step=10.7)
T(331.7, 1009, "Up (non-DC)", s=6.6)
T(500.7, 1009, "Up (DC)", s=6.6)
arrow(379, 1009, 357, 1009); arrow(460, 1009, 482, 1009)
T(527.3, 946.7, "Significance", s=6.8)
fig.add_trace(go.Scatter(x=[513.7,519,516.7], y=[960,960,970.3], mode="markers", marker=dict(size=3.4, color="rgba(255,255,255,0)", line=dict(color=["#ff2a2a","#3a3aff","#111"], width=.8))))
T(529.3, 959.5, "*", s=6)
T(531.7, 970.3, "ns", s=6.6)
fy_b = [865.7,874.7,888.7,902.7,911.7]
fy_r = [939,957.3,966.7,976,985]
for i,(t,y) in enumerate(zip(f_blue_terms,fy_b)):
    top = {2:884}.get(i, y)
    T(576, top, str(i+1), s=6.6, c="#3333ff")
    T(583, y, t, s=6.7, a="left", step=9.3)
for i,(t,y) in enumerate(zip(f_red_terms,fy_r)):
    top = {0:929.7}.get(i, y)
    T(576, top, str(i+1), s=6.6, c="#ff2222")
    T(583, y, t, s=6.7, a="left", step=9.3)

# ---------- arrows ----------
axs, ays, tipx, tipy, syms = [], [], [], [], []
for x0,y0,x1,y1 in arrows:
    axs += [x0,x1,None]; ays += [y0,y1,None]
    tipx.append(x1); tipy.append(y1); syms.append("triangle-right" if x1>x0 else "triangle-left")
fig.add_trace(go.Scatter(x=axs, y=ays, mode="lines", line=dict(color="#222", width=.6), hoverinfo="skip"))
fig.add_trace(go.Scatter(x=tipx, y=tipy, mode="markers", marker=dict(symbol=syms, size=4, color="#222"), hoverinfo="skip"))

# ---------- panel letters ----------
for lab, x, y in [("A",7,9),("B",290,8),("C",5,250),("D",5,414),("E",5,826),("F",270,825)]:
    T(x, y, lab, s=13, c="#000", b=True, scale=1)

layout["annotations"] = annots
layout["shapes"] = shapes
layout["bargap"] = 0
fig.update_layout(**layout)
fig.write_html("out.html", post_script="document.body.style.margin='0';document.body.style.overflow='hidden';",
               config=dict(displayModeBar=False))
